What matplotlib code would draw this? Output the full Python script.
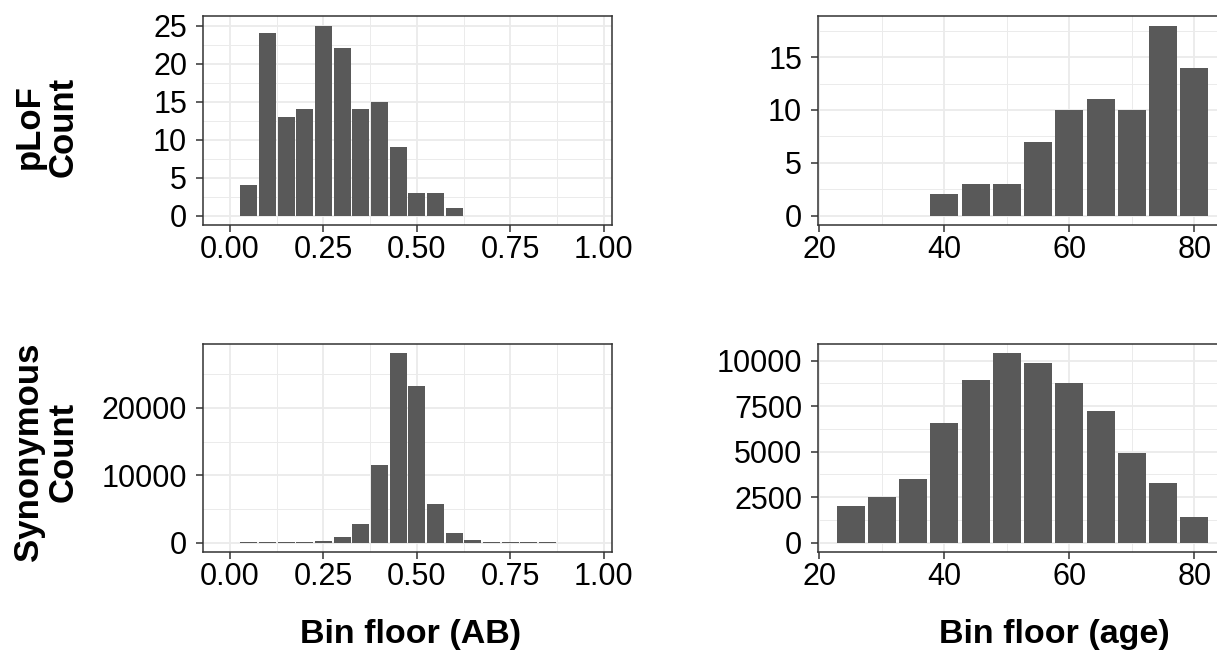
import matplotlib.pyplot as plt
import numpy as np

plt.rcParams['font.family'] = ['Liberation Sans', 'DejaVu Sans']

# bin floors and counts
ab_bins = [0.00, 0.05, 0.10, 0.15, 0.20, 0.25, 0.30, 0.35, 0.40, 0.45,
           0.50, 0.55, 0.60, 0.65, 0.70, 0.75, 0.80, 0.85, 0.90, 0.95]
plof_ab = [0, 4, 24, 13, 14, 25, 22, 14, 15, 9, 3, 3, 1, 0, 0, 0, 0, 0, 0, 0]
syn_ab = [5, 20, 30, 70, 90, 250, 800, 2750, 11500, 28100,
          23250, 5750, 1400, 320, 110, 70, 30, 10, 5, 2]

age_bins = [25, 30, 35, 40, 45, 50, 55, 60, 65, 70, 75, 80]
plof_age = [0, 0, 0, 2, 3, 3, 7, 10, 11, 10, 18, 14]
syn_age = [2000, 2500, 3500, 6600, 8950, 10400, 9900, 8750, 7230, 4900, 3300, 1400]

W, H = 1217, 658
fig = plt.figure(figsize=(W / 100, H / 100), dpi=100)


def px_axes(x0, y0, x1, y1):
    return fig.add_axes([x0 / W, 1 - y1 / H, (x1 - x0) / W, (y1 - y0) / H])


def style(ax, xmaj, xmin, ymaj, ymin, xlim, ymax, xfmt):
    ax.set_facecolor('white')
    ax.set_xlim(*xlim)
    ax.set_ylim(-0.05 * ymax, 1.05 * ymax)
    ax.set_xticks(xmaj)
    ax.set_xticks(xmin, minor=True)
    ax.set_yticks(ymaj)
    ax.set_yticks(ymin, minor=True)
    ax.set_xticklabels([xfmt(v) for v in xmaj])
    ax.set_yticklabels([str(int(v)) for v in ymaj])
    ax.grid(True, which='major', color='#ebebeb', linewidth=1.3)
    ax.grid(True, which='minor', color='#ebebeb', linewidth=0.7)
    ax.set_axisbelow(True)
    ax.tick_params(which='minor', length=0)
    ax.tick_params(axis='both', which='major', length=5, width=1.1,
                   color='#333333', labelsize=22, labelcolor='black')
    ax.tick_params(axis='x', pad=2.5)
    ax.tick_params(axis='y', pad=6.5)
    for s in ax.spines.values():
        s.set_color('#333333')
        s.set_linewidth(1.1)


ab_lim = (-0.0725, 1.0225)
age_lim = (19.775, 85.225)
abfmt = lambda v: f'{v:.2f}'
agefmt = lambda v: str(int(v))
ab_maj = [0, 0.25, 0.5, 0.75, 1.0]
ab_min = [0.125, 0.375, 0.625, 0.875]
age_maj = [20, 40, 60, 80]
age_min = [30, 50, 70]

# top-left: pLoF AB
ax1 = px_axes(203, 16, 612, 225)
ax1.bar(ab_bins, plof_ab, width=0.045, color='#595959', zorder=2)
style(ax1, ab_maj, ab_min, [0, 5, 10, 15, 20, 25], [2.5, 7.5, 12.5, 17.5, 22.5],
      ab_lim, max(plof_ab), abfmt)

# top-right: pLoF age
ax2 = px_axes(818, 16, 1227, 225)
ax2.bar(age_bins, plof_age, width=4.5, color='#595959', zorder=2)
style(ax2, age_maj, age_min, [0, 5, 10, 15], [2.5, 7.5, 12.5, 17.5],
      age_lim, max(plof_age), agefmt)

# bottom-left: synonymous AB
ax3 = px_axes(203, 344, 612, 552)
ax3.bar(ab_bins, syn_ab, width=0.045, color='#595959', zorder=2)
style(ax3, ab_maj, ab_min, [0, 10000, 20000], [5000, 15000, 25000],
      ab_lim, max(syn_ab), abfmt)

# bottom-right: synonymous age
ax4 = px_axes(818, 344, 1227, 552)
ax4.bar(age_bins, syn_age, width=4.5, color='#595959', zorder=2)
style(ax4, age_maj, age_min, [0, 2500, 5000, 7500, 10000],
      [1250, 3750, 6250, 8750], age_lim, max(syn_age), agefmt)

# row labels and column titles
fig.text(46 / W, 1 - 127 / H, 'pLoF\nCount', rotation=90, ha='center', va='center',
         multialignment='center', fontsize=25, fontweight='bold', linespacing=1.05)
fig.text(46 / W, 1 - 452 / H, 'Synonymous\nCount', rotation=90, ha='center', va='center',
         multialignment='center', fontsize=25, fontweight='bold', linespacing=1.05)
fig.text(411 / W, 1 - 643 / H, 'Bin floor (AB)', ha='center', va='baseline',
         fontsize=24.5, fontweight='bold')
fig.text(1054 / W, 1 - 643 / H, 'Bin floor (age)', ha='center', va='baseline',
         fontsize=24.5, fontweight='bold')

fig.savefig('out.png', dpi=100, facecolor='white')
